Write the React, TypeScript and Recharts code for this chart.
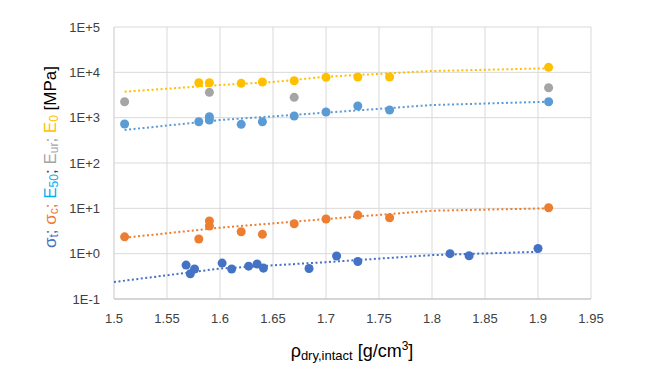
import { ScatterChart, Scatter, XAxis, YAxis, ZAxis, CartesianGrid } from "recharts";

// dry density of intact samples [g/cm3] and measured values [MPa]
const tensileRho = [1.568, 1.572, 1.576, 1.602, 1.611, 1.627, 1.635, 1.641, 1.684, 1.71, 1.73, 1.817, 1.835, 1.9];
const tensileVal = [0.56, 0.36, 0.46, 0.62, 0.46, 0.53, 0.59, 0.48, 0.47, 0.89, 0.67, 1.0, 0.9, 1.3];

const ucsRho = [1.51, 1.58, 1.59, 1.59, 1.62, 1.64, 1.67, 1.7, 1.73, 1.76, 1.91];
const ucsVal = [2.35, 2.1, 5.25, 4.07, 3.05, 2.67, 4.58, 5.8, 7.1, 6.2, 10.3];

const e50Rho = [1.51, 1.58, 1.59, 1.59, 1.62, 1.64, 1.67, 1.7, 1.73, 1.76, 1.91];
const e50Val = [724, 815, 1050, 887, 713, 815, 1090, 1335, 1807, 1475, 2250];

const eurRho = [1.51, 1.59, 1.67, 1.91];
const eurVal = [2250, 3620, 2810, 4580];

const e0Rho = [1.58, 1.59, 1.62, 1.64, 1.67, 1.7, 1.73, 1.76, 1.91];
const e0Val = [5900, 5900, 5720, 6120, 6540, 7760, 7890, 7890, 12900];

// trendlines
const trendTensileRho = [1.5, 1.6, 1.7, 1.8, 1.9];
const trendTensileVal = [0.237, 0.47, 0.65, 0.93, 1.1];
const trendUcsRho = [1.51, 1.6, 1.7, 1.8, 1.91];
const trendUcsVal = [2.25, 3.74, 5.8, 8.85, 10.0];
const trendE50Rho = [1.51, 1.6, 1.7, 1.8, 1.91];
const trendE50Val = [535, 887, 1290, 1900, 2250];
const trendE0Rho = [1.51, 1.6, 1.65, 1.7, 1.8, 1.91];
const trendE0Val = [3740, 5250, 6120, 8020, 10700, 12270];

const xTicks = [1.5, 1.55, 1.6, 1.65, 1.7, 1.75, 1.8, 1.85, 1.9, 1.95];
const yTicks = [0.1, 1, 10, 100, 1000, 10000, 100000];
const yTickLabels = ["1E-1", "1E+0", "1E+1", "1E+2", "1E+3", "1E+4", "1E+5"];

const zip = (xs: number[], ys: number[]) => xs.map((x, i) => ({ x, y: ys[i] }));

const C_T = "#4472C4";
const C_C = "#ED7D31";
const C_E50 = "#5B9BD5";
const C_E50_TXT = "#00B0F0";
const C_UR = "#A5A5A5";
const C_E0 = "#FFC000";
const FONT = "'Liberation Sans', Arial, sans-serif";

const noDot = () => <g />;

const trendLine = (color: string) => ({
  stroke: color,
  strokeWidth: 2,
  strokeDasharray: "2 2.5",
});

function YLabel() {
  const parts: { t: string; sub?: string; c: string }[] = [
    { t: "σ", sub: "t", c: C_T },
    { t: "; ", c: C_T },
    { t: "σ", sub: "c", c: C_C },
    { t: "; ", c: C_C },
    { t: "E", sub: "50", c: C_E50_TXT },
    { t: "; ", c: "#404040" },
    { t: "E", sub: "ur", c: C_UR },
    { t: "; ", c: C_UR },
    { t: "E", sub: "0", c: C_E0 },
    { t: " [MPa]", c: "#000" },
  ];
  const spans: any[] = [];
  let shifted = false;
  parts.forEach((p, i) => {
    spans.push(
      <tspan key={i + "m"} fill={p.c} fontSize={17} dy={shifted ? -4 : 0}>
        {p.t}
      </tspan>
    );
    shifted = false;
    if (p.sub) {
      spans.push(
        <tspan key={i + "s"} fill={p.c} fontSize={12} dy={4}>
          {p.sub}
        </tspan>
      );
      shifted = true;
    }
  });
  return (
    <text transform="translate(50,157) rotate(-90)" textAnchor="middle" dominantBaseline="central" fontFamily={FONT}>
      {spans}
    </text>
  );
}

function XLabel() {
  return (
    <text x={352} y={357} textAnchor="middle" fontFamily={FONT} fill="#000">
      <tspan fontSize={18}>ρ</tspan>
      <tspan fontSize={13} dy={3}>dry,intact</tspan>
      <tspan fontSize={18} dy={-3}> [g/cm</tspan>
      <tspan fontSize={12} dy={-7}>3</tspan>
      <tspan fontSize={18} dy={7}>]</tspan>
    </text>
  );
}

export default function App() {
  return (
    <div style={{ position: "fixed", left: 0, top: 0, width: 662, height: 378, background: "#fff", fontFamily: FONT }}>
      <ScatterChart width={662} height={378} margin={{ top: 27, right: 71, bottom: 0, left: 0 }}>
        <CartesianGrid stroke="#D9D9D9" strokeWidth={1} />
        <XAxis
          type="number"
          dataKey="x"
          domain={[1.5, 1.95]}
          ticks={xTicks}
          height={79}
          tickLine={false}
          tickSize={6}
          tickMargin={9}
          axisLine={{ stroke: "#BFBFBF" }}
          tick={{ fontSize: 13, fill: "#404040" }}
          allowDataOverflow
          label={<XLabel />}
        />
        <YAxis
          type="number"
          dataKey="y"
          scale="log"
          domain={[0.1, 100000]}
          ticks={yTicks}
          tickFormatter={(v: number) => yTickLabels[yTicks.indexOf(v)] ?? ""}
          width={114}
          tickLine={false}
          tickSize={6}
          tickMargin={8}
          axisLine={{ stroke: "#D9D9D9" }}
          tick={{ fontSize: 13, fill: "#404040" }}
          allowDataOverflow
          label={<YLabel />}
        />
        <ZAxis range={[110, 110]} />
        <Scatter data={zip(trendTensileRho, trendTensileVal)} line={trendLine(C_T)} lineType="joint" shape={noDot} fill={C_T} isAnimationActive={false} />
        <Scatter data={zip(trendUcsRho, trendUcsVal)} line={trendLine(C_C)} lineType="joint" shape={noDot} fill={C_C} isAnimationActive={false} />
        <Scatter data={zip(trendE50Rho, trendE50Val)} line={trendLine(C_E50)} lineType="joint" shape={noDot} fill={C_E50} isAnimationActive={false} />
        <Scatter data={zip(trendE0Rho, trendE0Val)} line={trendLine(C_E0)} lineType="joint" shape={noDot} fill={C_E0} isAnimationActive={false} />
        <Scatter data={zip(tensileRho, tensileVal)} fill={C_T} isAnimationActive={false} />
        <Scatter data={zip(ucsRho, ucsVal)} fill={C_C} isAnimationActive={false} />
        <Scatter data={zip(e50Rho, e50Val)} fill={C_E50} isAnimationActive={false} />
        <Scatter data={zip(eurRho, eurVal)} fill={C_UR} isAnimationActive={false} />
        <Scatter data={zip(e0Rho, e0Val)} fill={C_E0} isAnimationActive={false} />
      </ScatterChart>
    </div>
  );
}
